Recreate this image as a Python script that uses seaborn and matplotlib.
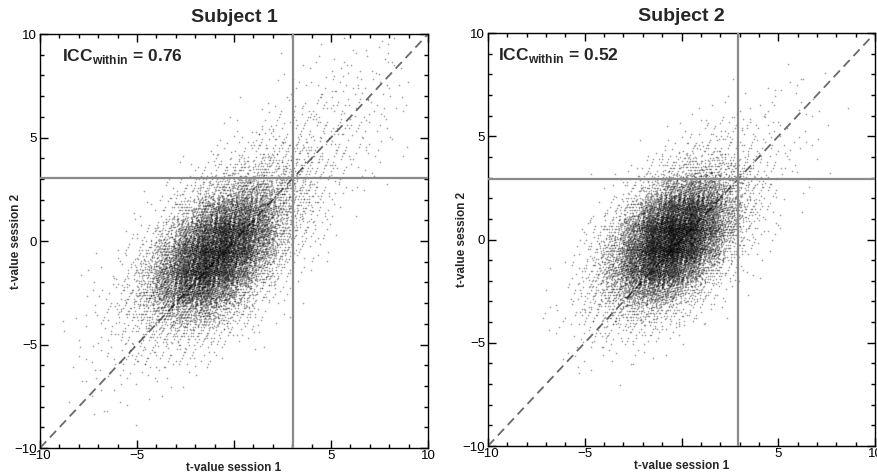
import numpy as np
import pandas as pd
import seaborn as sns
import matplotlib
matplotlib.use("Agg")
import matplotlib.pyplot as plt
from matplotlib.ticker import MultipleLocator

# ------------------------------------------------------------------------------
# 1) Data
# ------------------------------------------------------------------------------
titles = ["Subject 1", "Subject 2"]
icc_values = [0.76, 0.52]
thresholds = [3.05, 2.93]          # t threshold lines (x and y)
tick_values = [-10, -5, 0, 5, 10]
xtick_labels = ["\u221210", "\u22125", "", "5", "10"]

# point counts per 1x1 t-value cell
# columns: x cells -9..8 (left edge), rows: y cells 9..-9 (left/bottom edge)
cell_x = np.arange(-9, 9)
cell_y = np.arange(9, -10, -1)

s1_counts = [
    [0, 0, 0, 0, 0, 0, 0, 0, 0, 0, 0, 0, 0, 1, 2, 2, 3, 2],
    [0, 0, 0, 0, 0, 0, 0, 0, 0, 0, 0, 1, 2, 3, 4, 5, 4, 3],
    [0, 0, 0, 0, 0, 0, 0, 0, 0, 0, 1, 2, 4, 6, 8, 7, 5, 4],
    [0, 0, 0, 0, 0, 0, 0, 0, 0, 1, 2, 5, 9, 13, 10, 8, 7, 3],
    [0, 0, 0, 0, 0, 0, 0, 0, 1, 3, 8, 12, 17, 15, 13, 10, 5, 2],
    [0, 0, 0, 0, 0, 0, 0, 2, 5, 14, 22, 28, 24, 18, 15, 8, 4, 1],
    [0, 0, 0, 0, 0, 1, 3, 10, 26, 46, 62, 54, 37, 22, 10, 5, 2, 1],
    [0, 0, 0, 0, 1, 4, 16, 46, 94, 160, 150, 90, 47, 19, 7, 2, 1, 0],
    [0, 0, 0, 0, 3, 17, 59, 180, 300, 340, 260, 104, 43, 13, 3, 1, 0, 0],
    [0, 0, 0, 2, 13, 54, 195, 420, 600, 520, 300, 91, 27, 7, 1, 0, 0, 0],
    [0, 0, 1, 8, 36, 150, 400, 650, 680, 480, 210, 55, 13, 2, 0, 0, 0, 0],
    [0, 1, 4, 18, 68, 260, 500, 640, 520, 280, 82, 23, 4, 1, 0, 0, 0, 0],
    [0, 2, 8, 31, 87, 240, 380, 380, 240, 89, 29, 6, 1, 0, 0, 0, 0, 0],
    [1, 3, 9, 26, 60, 105, 150, 140, 75, 33, 9, 2, 0, 0, 0, 0, 0, 0],
    [1, 3, 8, 16, 28, 38, 40, 32, 18, 7, 2, 0, 0, 0, 0, 0, 0, 0],
    [1, 3, 7, 12, 17, 18, 14, 8, 3, 1, 0, 0, 0, 0, 0, 0, 0, 0],
    [1, 2, 4, 5, 5, 4, 3, 1, 0, 0, 0, 0, 0, 0, 0, 0, 0, 0],
    [1, 2, 2, 2, 1, 1, 0, 0, 0, 0, 0, 0, 0, 0, 0, 0, 0, 0],
    [0, 1, 1, 1, 0, 0, 0, 0, 0, 0, 0, 0, 0, 0, 0, 0, 0, 0],
]

s2_counts = [
    [0, 0, 0, 0, 0, 0, 0, 0, 0, 0, 0, 0, 0, 0, 0, 0, 0, 0],
    [0, 0, 0, 0, 0, 0, 0, 0, 0, 0, 0, 0, 0, 0, 1, 1, 0, 0],
    [0, 0, 0, 0, 0, 0, 0, 0, 0, 0, 0, 1, 1, 2, 2, 2, 1, 0],
    [0, 0, 0, 0, 0, 0, 0, 0, 0, 1, 1, 3, 3, 4, 3, 2, 1, 1],
    [0, 0, 0, 0, 0, 0, 0, 0, 1, 4, 8, 11, 10, 7, 4, 3, 1, 0],
    [0, 0, 0, 0, 0, 0, 0, 2, 7, 16, 22, 23, 16, 9, 6, 2, 1, 0],
    [0, 0, 0, 0, 0, 1, 4, 15, 39, 66, 75, 55, 29, 14, 5, 2, 1, 0],
    [0, 0, 0, 0, 1, 4, 22, 70, 175, 250, 215, 102, 42, 13, 4, 1, 0, 0],
    [0, 0, 0, 0, 3, 19, 78, 270, 500, 560, 370, 150, 40, 9, 2, 0, 0, 0],
    [0, 0, 0, 1, 11, 55, 240, 600, 820, 720, 380, 120, 25, 5, 1, 0, 0, 0],
    [0, 0, 0, 4, 25, 120, 380, 720, 820, 600, 240, 55, 11, 1, 0, 0, 0, 0],
    [0, 0, 1, 8, 37, 150, 370, 560, 500, 270, 78, 19, 3, 0, 0, 0, 0, 0],
    [0, 0, 2, 10, 38, 97, 215, 250, 175, 70, 22, 4, 1, 0, 0, 0, 0, 0],
    [0, 1, 2, 10, 25, 51, 71, 66, 40, 15, 4, 1, 0, 0, 0, 0, 0, 0],
    [0, 1, 3, 5, 12, 19, 20, 14, 7, 2, 0, 0, 0, 0, 0, 0, 0, 0],
    [0, 0, 1, 3, 4, 5, 4, 2, 1, 0, 0, 0, 0, 0, 0, 0, 0, 0],
    [0, 0, 0, 1, 1, 1, 1, 0, 0, 0, 0, 0, 0, 0, 0, 0, 0, 0],
    [0, 0, 0, 0, 0, 0, 0, 0, 0, 0, 0, 0, 0, 0, 0, 0, 0, 0],
    [0, 0, 0, 0, 0, 0, 0, 0, 0, 0, 0, 0, 0, 0, 0, 0, 0, 0],
]


def cell_points(counts, spread=0.85):
    # spread each cell's count over the cell with a deterministic
    # low-discrepancy pattern (tent shaped, so neighbouring cells blend)
    n = np.asarray(counts).ravel()
    cx = np.repeat(np.tile(cell_x, len(cell_y)) + 0.5, n)
    cy = np.repeat(np.repeat(cell_y, len(cell_x)) + 0.5, n)
    k = np.arange(n.sum())
    g = 1.1673039782614187
    f = [(0.5 + k / g ** j) % 1 for j in range(1, 5)]
    return pd.DataFrame({"x": cx + (f[0] + f[1] - 1) * spread,
                         "y": cy + (f[2] + f[3] - 1) * spread})


# ------------------------------------------------------------------------------
# 2) Plot
# ------------------------------------------------------------------------------
sns.set_style("ticks")
plt.rcParams["font.family"] = ["Liberation Sans", "DejaVu Sans"]
plt.rcParams["mathtext.fontset"] = "custom"
plt.rcParams["mathtext.rm"] = "Liberation Sans"
plt.rcParams["mathtext.bf"] = "Liberation Sans:bold"

fig = plt.figure(figsize=(8.78, 4.76), dpi=100)
axes = [fig.add_axes([0.0456, 0.0588, 0.4419, 0.8697]),
        fig.add_axes([0.5558, 0.0630, 0.4408, 0.8676])]
icc_x = [-8.87, -9.48]
ylabel_x = [-0.046, -0.052]

for i, ax in enumerate(axes):
    counts = [s1_counts, s2_counts][i]
    df = cell_points(counts)
    ax.plot([-10, 10], [-10, 10], color="#6a6a6a", lw=1.3,
            ls=(0, (5, 3)), zorder=1)
    sns.scatterplot(data=df, x="x", y="y", s=1.5, color="black",
                    alpha=0.35, linewidth=0, ax=ax, zorder=2)
    ax.axvline(thresholds[i], color="#8a8a8a", lw=1.6, zorder=3)
    ax.axhline(thresholds[i], color="#8a8a8a", lw=1.6, zorder=3)

    ax.set_xlim(-10, 10)
    ax.set_ylim(-10, 10)
    ax.set_xticks(tick_values)
    ax.set_xticklabels(xtick_labels)
    ax.set_yticks(tick_values)
    ax.xaxis.set_minor_locator(MultipleLocator(1))
    ax.yaxis.set_minor_locator(MultipleLocator(1))
    ax.tick_params(which="both", direction="in", top=True, right=True,
                   width=1.0, color="black", labelsize=9.5, labelcolor="black")
    ax.tick_params(which="major", length=6)
    ax.tick_params(which="minor", length=3)
    ax.tick_params(axis="x", pad=1.5)
    ax.tick_params(axis="y", pad=2)
    for sp in ax.spines.values():
        sp.set_visible(True)
        sp.set_linewidth(1.0)
        sp.set_color("black")

    ax.set_xlabel("t-value session 1", fontsize=8.5, fontweight="bold")
    ax.set_ylabel("t-value session 2", fontsize=8.5, fontweight="bold")
    ax.xaxis.set_label_coords(0.5, -0.033)
    ax.yaxis.set_label_coords(ylabel_x[i], 0.5)
    ax.set_title(titles[i], fontsize=14, fontweight="bold", pad=9)
    ax.text(icc_x[i], 8.7, r"$\mathbf{ICC}_{\mathbf{within}}$ = %.2f" % icc_values[i],
            fontsize=12.5, fontweight="bold", zorder=4)

fig.savefig("out.png", dpi=100)
